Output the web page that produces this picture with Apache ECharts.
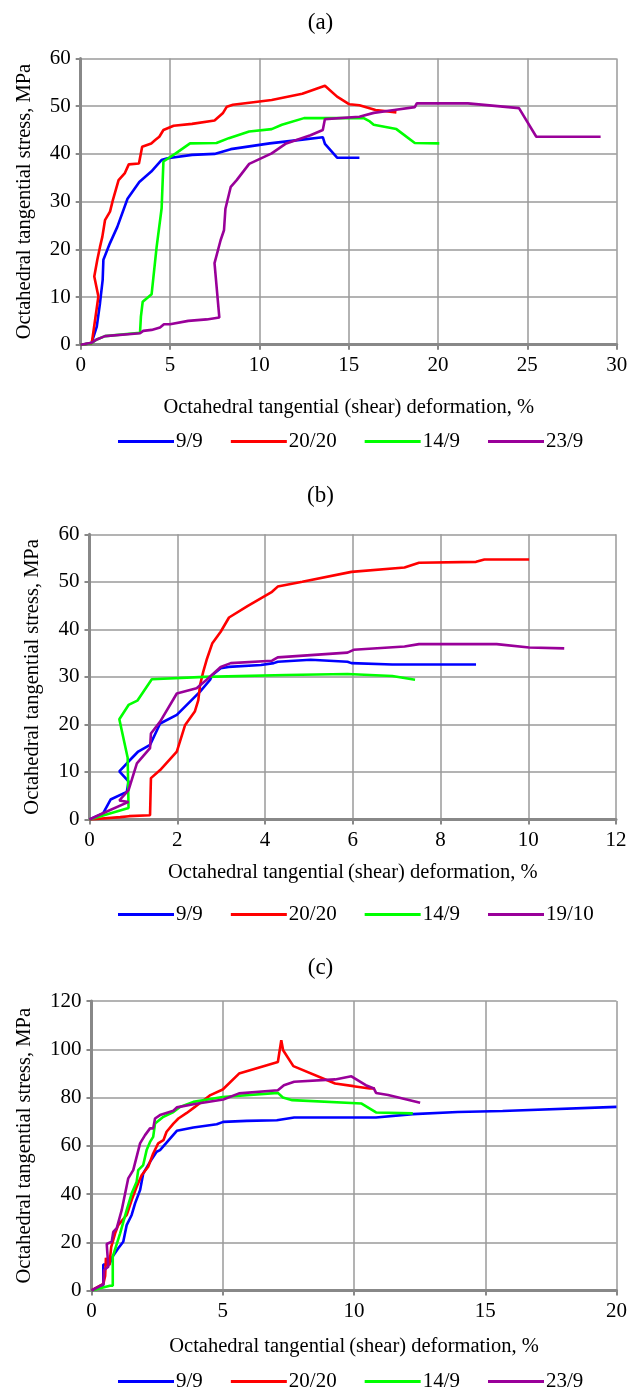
<!DOCTYPE html>
<html>
<head>
<meta charset="utf-8">
<script src="https://cdn.jsdelivr.net/npm/echarts@6/dist/echarts.min.js"></script>
<style>
html,body{margin:0;padding:0;background:#fff;}
#chart{width:641px;height:1391px;}
</style>
</head>
<body>
<div id="chart"></div>
<script>
// ---- Panel (a) ----
const a_9_9 = [[0,0],[0.6,0.3],[0.71,0.6],[0.9,3.8],[1.08,8.7],[1.23,13.6],[1.27,17.8],[1.64,21.3],[2.05,24.7],[2.62,30.6],[3.28,34.1],[3.95,36.3],[4.52,38.7],[4.86,39.1],[6.23,39.8],[7.49,40.0],[7.6,40.3],[8.4,41.0],[10.58,42.2],[12.4,43.0],[13.55,43.5],[13.67,42.1],[14.35,39.2],[15.6,39.2]];
const a_20_20 = [[0,0],[0.62,0.3],[0.99,10.1],[0.76,14.3],[0.93,17.8],[1.08,20.5],[1.21,22.6],[1.27,24.0],[1.36,26.1],[1.64,27.9],[1.8,30.3],[2.12,34.5],[2.46,35.9],[2.69,37.8],[3.26,38.0],[3.44,41.5],[3.95,42.2],[4.17,42.9],[4.4,43.6],[4.63,45.0],[5.2,45.9],[6.23,46.3],[7.49,47.0],[7.6,47.1],[7.95,48.5],[8.18,49.9],[8.52,50.3],[10.69,51.3],[12.4,52.6],[13.67,54.3],[14.35,52.0],[15.04,50.4],[15.6,50.2],[16.5,49.2],[17.67,48.7]];
const a_14_9 = [[0,0],[0.6,0.3],[0.9,1.1],[1.36,1.8],[3.32,2.5],[3.37,2.7],[3.37,5.9],[3.47,9.0],[3.97,10.6],[4.25,20.5],[4.53,28.6],[4.59,34.5],[4.63,38.4],[5.32,40.1],[6.12,42.2],[7.6,42.3],[8.29,43.3],[9.43,44.7],[10.69,45.2],[11.26,46.1],[12.5,47.5],[15.84,47.5],[16.18,46.8],[16.4,46.1],[17.67,45.2],[18.7,42.3],[20.07,42.2]];
const a_23_9 = [[0,0],[0.6,0.4],[0.9,1.1],[1.36,1.8],[3.32,2.4],[3.5,2.9],[3.97,3.1],[4.44,3.6],[4.66,4.3],[5.0,4.3],[6.02,5.0],[7.05,5.3],[7.76,5.7],[7.49,17.1],[7.83,21.9],[8.02,24.0],[8.1,28.5],[8.4,33.1],[8.73,34.5],[9.43,37.9],[10.69,40.1],[11.5,42.2],[12.86,43.9],[13.55,45.0],[13.67,47.3],[15.6,47.8],[16.4,48.6],[17.55,49.2],[18.7,49.8],[18.81,50.6],[21.67,50.6],[24.53,49.6],[25.5,43.6],[29.1,43.6]];

// ---- Panel (b) ----
const b_9_9 = [[0,0],[0.31,1.3],[0.48,4.2],[0.85,5.8],[0.89,8.0],[0.68,10.1],[0.89,12.2],[1.11,14.3],[1.38,15.7],[1.61,20.2],[1.99,22.0],[2.52,26.9],[2.75,29.4],[2.8,30.4],[2.99,31.8],[3.17,32.1],[3.91,32.5],[4.2,32.9],[4.29,33.2],[5.04,33.6],[5.88,33.2],[5.97,32.9],[6.9,32.6],[8.81,32.6]];
const b_20_20 = [[0,0],[0.7,0.5],[0.9,0.7],[1.38,0.9],[1.4,8.7],[1.61,10.4],[1.99,14.3],[2.18,19.9],[2.4,22.7],[2.48,25.1],[2.52,28.3],[2.59,31.0],[2.67,33.6],[2.8,37.1],[2.99,39.5],[3.18,42.5],[3.6,44.9],[4.16,47.9],[4.29,49.0],[4.85,50.0],[5.97,52.1],[7.18,53.0],[7.51,54.0],[8.81,54.2],[9.0,54.7],[10.02,54.7]];
const b_14_9 = [[0,0],[0.89,2.4],[0.87,13.0],[0.68,21.1],[0.89,24.1],[1.09,25.0],[1.42,29.5],[2.62,30.0],[4.48,30.4],[5.88,30.6],[6.9,30.2],[7.42,29.4]];
const b_19_10 = [[0,0],[0.28,1.2],[0.89,3.7],[0.68,4.0],[0.89,6.2],[1.08,11.8],[1.38,15.0],[1.4,18.1],[1.61,20.6],[1.99,26.5],[2.44,27.6],[2.67,29.4],[2.99,32.1],[3.22,32.9],[4.16,33.4],[4.29,34.1],[5.88,35.1],[6.02,35.7],[7.18,36.4],[7.51,36.9],[9.28,36.9],[10.02,36.2],[10.82,36.0]];

// ---- Panel (c) ----
const c_9_9 = [[0,0],[0.45,2.3],[0.45,10.8],[0.68,10.8],[0.8,14],[1.02,17.5],[1.21,20.2],[1.34,27.1],[1.53,31.3],[1.66,36.1],[1.85,41.6],[1.97,48.5],[2.23,53.3],[2.48,57.5],[2.61,58.2],[3.25,66.2],[3.88,67.6],[4.77,68.9],[5.02,69.9],[5.91,70.3],[7.06,70.6],[7.72,71.7],[10.84,71.7],[12.24,73.1],[13.95,74.0],[15.66,74.4],[20.0,76.1]];
const c_20_20 = [[0,0],[0.45,2.7],[0.52,6],[0.55,13.5],[0.68,10.5],[0.75,18],[0.9,23.7],[1.02,27.1],[1.34,31.3],[1.53,37.5],[1.72,43.0],[1.91,47.8],[2.16,51.3],[2.35,56.8],[2.54,61.0],[2.74,62.3],[2.86,65.8],[3.12,69.2],[3.31,71.3],[3.63,73.6],[3.94,76.1],[4.53,81.0],[5.0,83.3],[5.62,89.9],[7.1,94.7],[7.23,103.7],[7.3,99.6],[7.69,93.0],[9.28,85.8],[9.98,84.7],[10.6,83.7],[10.8,83.7]];
const c_14_9 = [[0,0],[0.7,2.0],[0.81,2.0],[0.81,14.0],[1.09,23.7],[1.34,33.3],[1.53,40.2],[1.72,45.1],[1.78,49.9],[1.97,52.0],[2.1,58.2],[2.23,61.6],[2.35,63.7],[2.42,69.2],[2.74,72.0],[3.12,74.0],[3.37,76.1],[3.88,78.2],[5.0,80.2],[7.1,81.9],[7.29,80.0],[7.65,78.9],[10.29,77.5],[10.84,73.8],[12.24,73.4]];
const c_23_9 = [[0,0],[0.45,2.6],[0.48,8.5],[0.64,9.9],[0.58,19.3],[0.77,20.2],[0.83,24.3],[0.96,25.8],[1.15,33.3],[1.4,46.5],[1.59,49.9],[1.85,61.0],[2.04,64.4],[2.23,67.2],[2.35,67.2],[2.42,71.3],[2.61,72.7],[3.12,74.5],[3.25,75.9],[3.88,77.2],[5.02,79.2],[5.62,81.7],[7.1,83.0],[7.33,85.1],[7.72,86.5],[9.28,87.5],[9.9,88.8],[10.45,85.1],[10.76,83.7],[10.84,81.9],[11.3,81.0],[12.52,77.8]];

const panelTitles = ['(a)','(b)','(c)'];
const namesA = ['9/9','20/20','14/9','23/9'];
const namesB = ['9/9','20/20','14/9','19/10'];
const namesC = ['9/9','20/20','14/9','23/9'];
const xRanges = [[0,30,5],[0,12,2],[0,20,5]];
const yRanges = [[0,60,10],[0,60,10],[0,120,20]];
const xName = ['Octahedral tangential (shear) deformation, %','Octahedral tangential\u2009(shear) deformation, %','Octahedral tangential\u2009(shear) deformation, %'];
const yName = 'Octahedral tangential stress, MPa';

const colors = {'9/9':'#0000FF','20/20':'#FF0000','14/9':'#00FF00','23/9':'#990099','19/10':'#990099'};
const FONT = 'Liberation Serif';

const grids = [
  {left:80.7, top:58.5, width:536, height:286.2},
  {left:89.5, top:534.3, width:526.5, height:285.2},
  {left:91.5, top:1001, width:525, height:289.5}
];
const yGaps = [46, 46, 56];
const xGaps = [52, 43, 46];
const titleTops = [6, 479, 951];
const legendTops = [426, 899, 1366];

const chart = echarts.init(document.getElementById('chart'), null, {renderer:'canvas'});

function mkX(i){
  return {
    type:'value', gridIndex:i, min:xRanges[i][0], max:xRanges[i][1], interval:xRanges[i][2],
    name:xName[i], nameLocation:'middle', nameGap:xGaps[i],
    nameTextStyle:{fontFamily:FONT, fontSize:20.5, color:'#000'},
    axisLine:{show:true, onZero:false, lineStyle:{color:'#888', width:3}},
    axisTick:{show:true, inside:false, length:5, lineStyle:{color:'#888', width:2}},
    axisLabel:{fontFamily:FONT, fontSize:21, color:'#000', margin:10},
    splitLine:{show:true, lineStyle:{color:'#9a9a9a', width:1.5}}
  };
}
function mkY(i){
  return {
    type:'value', gridIndex:i, min:yRanges[i][0], max:yRanges[i][1], interval:yRanges[i][2],
    name:yName, nameLocation:'middle', nameGap:yGaps[i],
    nameTextStyle:{fontFamily:FONT, fontSize:20.5, color:'#000'},
    axisLine:{show:true, onZero:false, lineStyle:{color:'#888', width:3}},
    axisTick:{show:true, inside:false, length:5, lineStyle:{color:'#888', width:2}},
    axisLabel:{fontFamily:FONT, fontSize:21, color:'#000', margin:10},
    splitLine:{show:true, lineStyle:{color:'#9a9a9a', width:1.5}}
  };
}
function mkSeries(name, data, i){
  return {
    type:'line', name:name, xAxisIndex:i, yAxisIndex:i, data:data,
    symbol:'none', showSymbol:false, smooth:false,
    lineStyle:{color:colors[name], width:2.6},
    itemStyle:{color:colors[name]},
    animation:false
  };
}
function mkLegend(names, top){
  return {
    data:names, top:top, left:113, itemWidth:56, itemHeight:3, itemGap:28,
    icon:'rect', selectedMode:false,
    textStyle:{fontFamily:FONT, fontSize:21, color:'#000', padding:[0,0,0,-3]}
  };
}

const option = {
  backgroundColor:'#fff',
  animation:false,
  title: panelTitles.map((t,i)=>({text:t, left:'center', top:titleTops[i], textStyle:{fontFamily:FONT, fontSize:23, fontWeight:'normal', color:'#000'}})),
  grid: grids,
  xAxis: [mkX(0), mkX(1), mkX(2)],
  yAxis: [mkY(0), mkY(1), mkY(2)],
  legend: [mkLegend(namesA, legendTops[0]), mkLegend(namesB, legendTops[1]), mkLegend(namesC, legendTops[2])],
  series: [
    mkSeries('9/9', a_9_9, 0), mkSeries('20/20', a_20_20, 0), mkSeries('14/9', a_14_9, 0), mkSeries('23/9', a_23_9, 0),
    mkSeries('9/9', b_9_9, 1), mkSeries('20/20', b_20_20, 1), mkSeries('14/9', b_14_9, 1), mkSeries('19/10', b_19_10, 1),
    mkSeries('9/9', c_9_9, 2), mkSeries('20/20', c_20_20, 2), mkSeries('14/9', c_14_9, 2), mkSeries('23/9', c_23_9, 2)
  ]
};
chart.setOption(option);
</script>
</body>
</html>
